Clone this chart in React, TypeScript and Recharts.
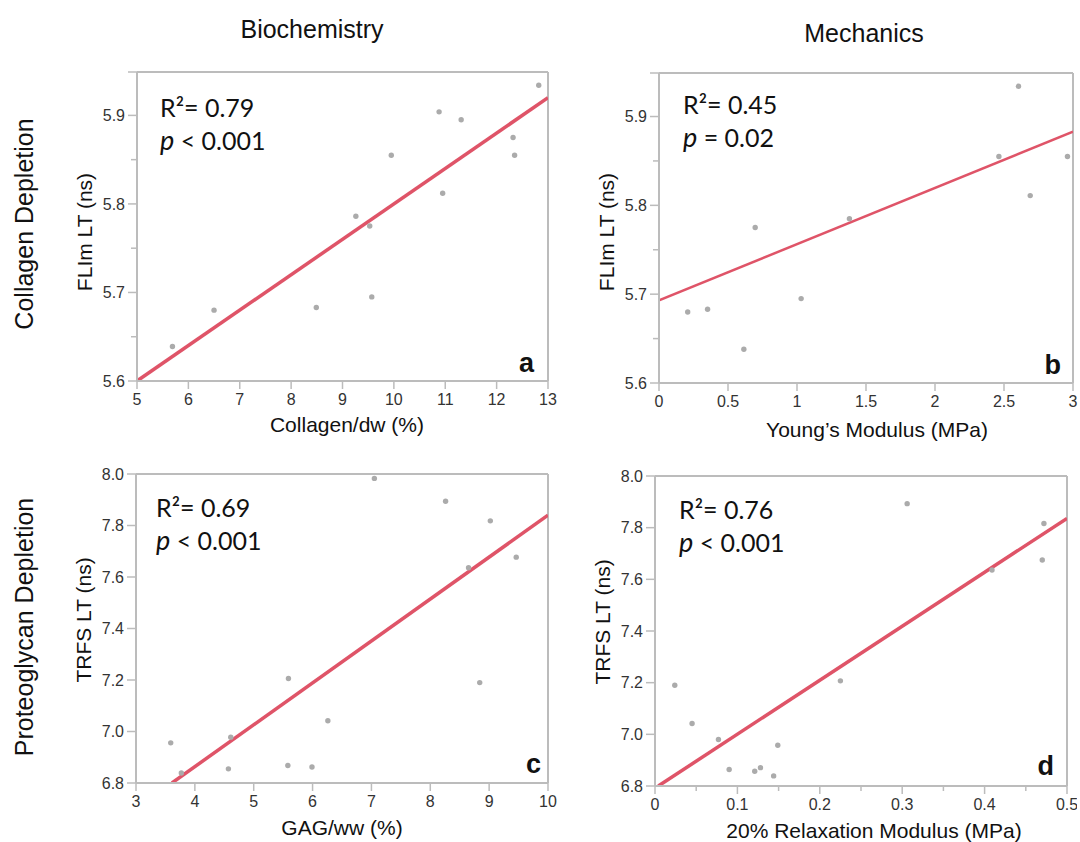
import { ReferenceLine, Scatter, ScatterChart, XAxis, YAxis } from "recharts";

// panel a: collagen content vs FLIm lifetime
const collagenDw = [5.69, 6.5, 8.49, 9.26, 9.53, 9.57, 9.95, 10.88, 10.95, 11.31, 12.32, 12.35, 12.82];
const flimA = [5.639, 5.68, 5.683, 5.786, 5.775, 5.695, 5.855, 5.904, 5.812, 5.895, 5.875, 5.855, 5.934];
const fitA = [
  { x: 5, y: 5.6 },
  { x: 13, y: 5.92 },
];

// panel b: Young's modulus vs FLIm lifetime
const youngs = [0.208, 0.352, 0.615, 0.697, 1.03, 1.38, 2.463, 2.605, 2.69, 2.96];
const flimB = [5.68, 5.683, 5.638, 5.775, 5.695, 5.785, 5.855, 5.934, 5.811, 5.855];
const fitB = [
  { x: 0, y: 5.693 },
  { x: 3, y: 5.883 },
];

// panel c: GAG content vs TRFS lifetime
const gagWw = [3.59, 3.77, 4.57, 4.61, 5.58, 5.59, 5.99, 6.26, 7.05, 8.26, 8.65, 8.84, 9.02, 9.46];
const trfsC = [6.956, 6.839, 6.855, 6.978, 6.868, 7.206, 6.862, 7.042, 7.983, 7.894, 7.636, 7.19, 7.818, 7.677];
const fitC = [
  { x: 3.61, y: 6.8 },
  { x: 10, y: 7.84 },
];

// panel d: relaxation modulus vs TRFS lifetime
const relaxMod = [0.024, 0.045, 0.077, 0.09, 0.121, 0.128, 0.144, 0.149, 0.225, 0.306, 0.409, 0.47, 0.472];
const trfsD = [7.19, 7.042, 6.98, 6.864, 6.857, 6.871, 6.839, 6.958, 7.207, 7.893, 7.636, 7.675, 7.816];
const fitD = [
  { x: 0.004, y: 6.8 },
  { x: 0.5, y: 7.836 },
];

const flimTicks = [5.6, 5.7, 5.8, 5.9];
const flimMinor = [5.65, 5.75, 5.85];
const trfsTicks = [6.8, 7.0, 7.2, 7.4, 7.6, 7.8, 8.0];
const collagenTicks = [5, 6, 7, 8, 9, 10, 11, 12, 13];
const youngsTicks = [0, 0.5, 1, 1.5, 2, 2.5, 3];
const gagTicks = [3, 4, 5, 6, 7, 8, 9, 10];
const relaxTicks = [0, 0.1, 0.2, 0.3, 0.4, 0.5];
const relaxMinor = [0.05, 0.15, 0.25, 0.35, 0.45];

const GRAY = "#bcbcbc";
const FIT = "#df5468";
const DOT = "#ababab";
const TICK_FONT = "'Liberation Sans', Arial, sans-serif";

const zip = (xs: number[], ys: number[]) => xs.map((x, i) => ({ x, y: ys[i] }));

function XTick(props: any) {
  const { x, y, payload, minor } = props;
  const isMinor = minor.includes(payload.value);
  return (
    <g>
      <line x1={x} x2={x} y1={y} y2={y + (isMinor ? 5 : 8)} stroke={GRAY} strokeWidth={1.5} />
      {!isMinor && (
        <text x={x} y={y + 24} textAnchor="middle" fontSize={16} fontFamily={TICK_FONT} fill="#333">
          {String(payload.value)}
        </text>
      )}
    </g>
  );
}

function YTick(props: any) {
  const { x, y, payload, minor, major } = props;
  const isMinor = minor.includes(payload.value);
  const hasLabel = major.includes(payload.value);
  return (
    <g>
      <line x1={x - (isMinor ? 6 : 9)} x2={x} y1={y} y2={y} stroke={GRAY} strokeWidth={1.5} />
      {hasLabel && (
        <text x={x - 12} y={y} dy="0.35em" textAnchor="end" fontSize={16} fontFamily={TICK_FONT} fill="#333">
          {payload.value.toFixed(1)}
        </text>
      )}
    </g>
  );
}

type PanelProps = {
  left: number;
  top: number;
  w: number;
  h: number;
  points: { x: number; y: number }[];
  fit: { x: number; y: number }[];
  xDomain: [number, number];
  yDomain: [number, number];
  xTicks: number[];
  xMinor: number[];
  yTicks: number[];
  yMinor: number[];
  fitWidth: number;
};

function Panel(p: PanelProps) {
  const xAll = [...p.xTicks, ...p.xMinor].sort((a, b) => a - b);
  const yAll = [...p.yTicks, ...p.yMinor, p.yDomain[1]].filter((v, i, arr) => arr.indexOf(v) === i).sort((a, b) => a - b);
  return (
    <div style={{ position: "absolute", left: p.left - 70, top: p.top - 10 }}>
      <ScatterChart width={p.w + 80} height={p.h + 50} margin={{ top: 10, right: 10, bottom: 0, left: 10 }}>
        <XAxis
          type="number"
          dataKey="x"
          domain={p.xDomain}
          ticks={xAll}
          interval={0}
          allowDataOverflow
          height={40}
          tickSize={0}
          tickMargin={0}
          tickLine={false}
          axisLine={{ stroke: GRAY, strokeWidth: 2 }}
          tick={<XTick minor={p.xMinor} />}
        />
        <YAxis
          type="number"
          dataKey="y"
          domain={p.yDomain}
          ticks={yAll}
          interval={0}
          allowDataOverflow
          width={60}
          tickSize={0}
          tickMargin={0}
          tickLine={false}
          axisLine={{ stroke: GRAY, strokeWidth: 2 }}
          tick={<YTick minor={p.yMinor} major={p.yTicks} />}
        />
        <ReferenceLine y={p.yDomain[1]} stroke={GRAY} strokeWidth={2} />
        <ReferenceLine x={p.xDomain[1]} stroke={GRAY} strokeWidth={2} />
        <ReferenceLine segment={p.fit} stroke={FIT} strokeWidth={p.fitWidth} ifOverflow="hidden" />
        <Scatter
          data={p.points}
          isAnimationActive={false}
          shape={(s: any) => <circle cx={s.cx} cy={s.cy} r={2.7} fill={DOT} />}
        />
      </ScatterChart>
    </div>
  );
}

function Stats({ x, y, r2, rel, pv }: { x: number; y: number; r2: string; rel: string; pv: string }) {
  return (
    <text fontFamily="Lato, 'Open Sans', sans-serif" fontSize={25} fill="#111">
      <tspan x={x} y={y}>{`R²= ${r2}`}</tspan>
      <tspan x={x} y={y + 33} fontStyle="italic" fontSize={27}>p</tspan>
      <tspan>{` ${rel} ${pv}`}</tspan>
    </text>
  );
}

export default function App() {
  const label = { fontFamily: TICK_FONT, fill: "#111" } as const;
  return (
    <div style={{ position: "absolute", left: 0, top: 0, width: 1080, height: 842, background: "#fff" }}>
      <Panel left={137} top={72} w={411} h={309} points={zip(collagenDw, flimA)} fit={fitA}
        xDomain={[5, 13]} yDomain={[5.6, 5.949]} xTicks={collagenTicks} xMinor={[]}
        yTicks={flimTicks} yMinor={flimMinor} fitWidth={3.5} />
      <Panel left={659} top={73} w={414} h={310} points={zip(youngs, flimB)} fit={fitB}
        xDomain={[0, 3]} yDomain={[5.6, 5.949]} xTicks={youngsTicks} xMinor={[]}
        yTicks={flimTicks} yMinor={flimMinor} fitWidth={2.5} />
      <Panel left={136} top={474} w={412} h={309} points={zip(gagWw, trfsC)} fit={fitC}
        xDomain={[3, 10]} yDomain={[6.8, 8.0]} xTicks={gagTicks} xMinor={[]}
        yTicks={trfsTicks} yMinor={[]} fitWidth={3.5} />
      <Panel left={655} top={476} w={412} h={310} points={zip(relaxMod, trfsD)} fit={fitD}
        xDomain={[0, 0.5]} yDomain={[6.8, 8.0]} xTicks={relaxTicks} xMinor={relaxMinor}
        yTicks={trfsTicks} yMinor={[]} fitWidth={3.5} />

      <svg width={1080} height={842} style={{ position: "absolute", left: 0, top: 0, pointerEvents: "none" }}>
        <text x={312} y={38} textAnchor="middle" fontSize={25} {...label}>Biochemistry</text>
        <text x={864} y={42} textAnchor="middle" fontSize={25} {...label}>Mechanics</text>

        <text transform="translate(33,224) rotate(-90)" textAnchor="middle" fontSize={25} {...label}>Collagen Depletion</text>
        <text transform="translate(33,627) rotate(-90)" textAnchor="middle" fontSize={25} {...label}>Proteoglycan Depletion</text>

        <text transform="translate(92,232) rotate(-90)" textAnchor="middle" fontSize={21} {...label}>FLIm LT (ns)</text>
        <text transform="translate(614,232) rotate(-90)" textAnchor="middle" fontSize={21} {...label}>FLIm LT (ns)</text>
        <text transform="translate(91,620) rotate(-90)" textAnchor="middle" fontSize={21} {...label}>TRFS LT (ns)</text>
        <text transform="translate(610,622) rotate(-90)" textAnchor="middle" fontSize={21} {...label}>TRFS LT (ns)</text>

        <text x={347} y={432} textAnchor="middle" fontSize={21} {...label}>Collagen/dw (%)</text>
        <text x={877} y={437} textAnchor="middle" fontSize={21} {...label}>Young’s Modulus (MPa)</text>
        <text x={342} y={835} textAnchor="middle" fontSize={21} {...label}>GAG/ww (%)</text>
        <text x={874} y={838} textAnchor="middle" fontSize={21} {...label}>20% Relaxation Modulus (MPa)</text>

        <Stats x={160} y={117} r2="0.79" rel="<" pv="0.001" />
        <Stats x={683} y={114} r2="0.45" rel="=" pv="0.02" />
        <Stats x={156} y={517} r2="0.69" rel="<" pv="0.001" />
        <Stats x={679} y={519} r2="0.76" rel="<" pv="0.001" />

        <text x={534} y={372} textAnchor="end" fontSize={27} fontWeight="bold" {...label}>a</text>
        <text x={1061} y={374} textAnchor="end" fontSize={27} fontWeight="bold" {...label}>b</text>
        <text x={541} y={773} textAnchor="end" fontSize={27} fontWeight="bold" {...label}>c</text>
        <text x={1054} y={775} textAnchor="end" fontSize={27} fontWeight="bold" {...label}>d</text>
      </svg>
    </div>
  );
}
